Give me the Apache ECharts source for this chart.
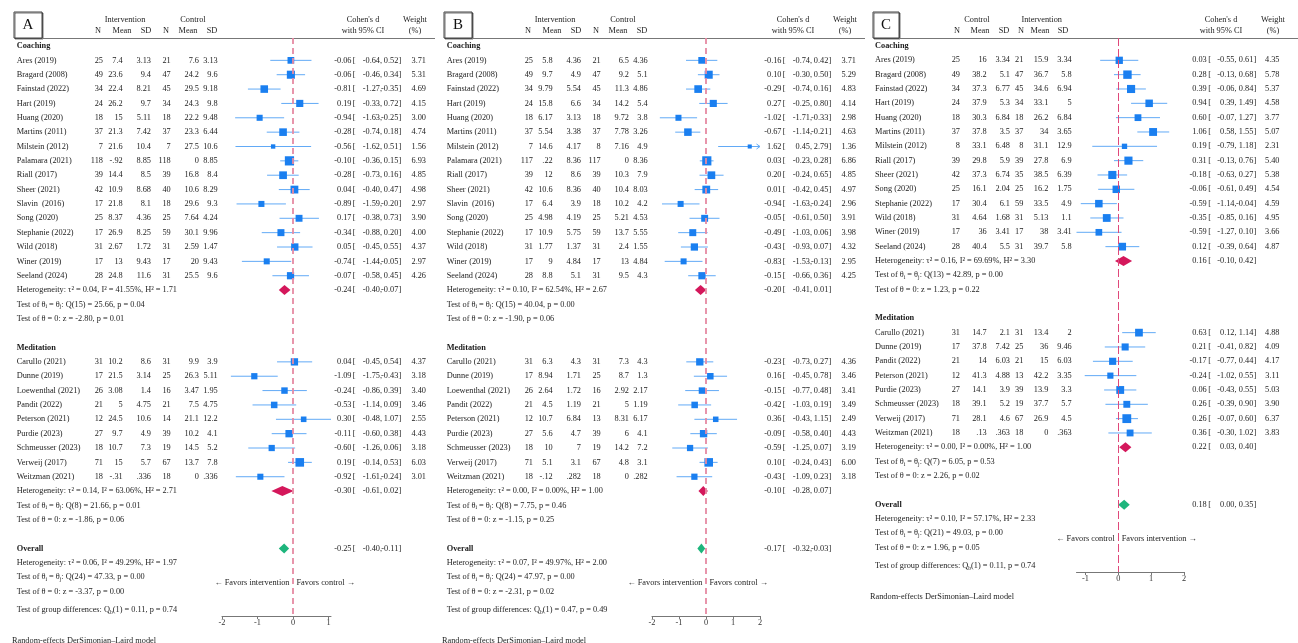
<!DOCTYPE html>
<html><head><meta charset="utf-8">
<script src="https://cdn.jsdelivr.net/npm/echarts@6/dist/echarts.min.js"></script>
<style>html,body{margin:0;padding:0;background:#fff}#c{width:1298px;height:643px}</style>
</head><body><div id="c"></div>
<script>
// ================= DATA =================
// ---- Panel A ----
const A_studies = ["Ares (2019)","Bragard (2008)","Fainstad (2022)","Hart (2019)","Huang (2020)","Martins (2011)","Milstein (2012)","Palamara (2021)","Riall (2017)","Sheer (2021)","Slavin  (2016)","Song (2020)","Stephanie (2022)","Wild (2018)","Winer (2019)","Seeland (2024)",
  "Carullo (2021)","Dunne (2019)","Loewenthal (2021)","Pandit (2022)","Peterson (2021)","Purdie (2023)","Schmeusser (2023)","Verweij (2017)","Weitzman (2021)"];
const A_nCoaching = 16;
const A_n1 = ["25","49","34","24","18","37","7","118","39","42","17","25","17","31","17","28", "31","17","26","21","12","27","18","71","18"];
const A_mean1 = ["7.4","23.6","22.4","26.2","15","21.3","21.6","-.92","14.4","10.9","21.8","8.37","26.9","2.67","13","24.8", "10.2","21.5","3.08","5","24.5","9.7","10.7","15","-.31"];
const A_sd1 = ["3.13","9.4","8.21","9.7","5.11","7.42","10.4","8.85","8.5","8.68","8.1","4.36","8.25","1.72","9.43","11.6", "8.6","3.14","1.4","4.75","10.6","4.9","7.3","5.7",".336"];
const A_n2 = ["21","47","45","34","18","37","7","118","39","40","18","25","59","31","17","31", "31","25","16","21","14","39","19","67","18"];
const A_mean2 = ["7.6","24.2","29.5","24.3","22.2","23.3","27.5","0","16.8","10.6","29.6","7.64","30.1","2.59","20","25.5", "9.9","26.3","3.47","7.5","21.1","10.2","14.5","13.7","0"];
const A_sd2 = ["3.13","9.6","9.18","9.8","9.48","6.44","10.6","8.85","8.4","8.29","9.3","4.24","9.96","1.47","9.43","9.6", "3.9","5.11","1.95","4.75","12.2","4.1","5.2","7.8",".336"];
const A_d  = [-0.06,-0.06,-0.81,0.19,-0.94,-0.28,-0.56,-0.10,-0.28,0.04,-0.89,0.17,-0.34,0.05,-0.74,-0.07, 0.04,-1.09,-0.24,-0.53,0.30,-0.11,-0.60,0.19,-0.92];
const A_lo = [-0.64,-0.46,-1.27,-0.33,-1.63,-0.74,-1.62,-0.36,-0.73,-0.40,-1.59,-0.38,-0.88,-0.45,-1.44,-0.58, -0.45,-1.75,-0.86,-1.14,-0.48,-0.60,-1.26,-0.14,-1.61];
const A_hi = [0.52,0.34,-0.35,0.72,-0.25,0.18,0.51,0.15,0.16,0.47,-0.20,0.73,0.20,0.55,-0.05,0.45, 0.54,-0.43,0.39,0.09,1.07,0.38,0.06,0.53,-0.24];
const A_weight = [3.71,5.31,4.69,4.15,3.00,4.74,1.56,6.93,4.85,4.98,2.97,3.90,4.00,4.37,2.97,4.26, 4.37,3.18,3.40,3.46,2.55,4.43,3.18,6.03,3.01];
const A_sub = [[-0.24,-0.40,-0.07],[-0.30,-0.61,0.02]];
const A_overall = [-0.25,-0.40,-0.11];
const A_het = ["τ² = 0.04, I² = 41.55%, H² = 1.71","τ² = 0.14, I² = 63.06%, H² = 2.71","τ² = 0.06, I² = 49.29%, H² = 1.97"];
const A_Q = ["Q(15) = 25.66, p = 0.04","Q(8) = 21.66, p = 0.01","Q(24) = 47.33, p = 0.00"];
const A_z = ["z = -2.80, p = 0.01","z = -1.86, p = 0.06","z = -3.37, p = 0.00"];
const A_Qb = "(1) = 0.11, p = 0.74";

// ---- Panel B ----
const B_studies = A_studies;
const B_nCoaching = 16;
const B_n1 = ["25","49","34","24","18","37","7","117","39","42","17","25","17","31","17","28", "31","17","26","21","12","27","18","71","18"];
const B_mean1 = ["5.8","9.7","9.79","15.8","6.17","5.54","14.6",".22","12","10.6","6.4","4.98","10.9","1.77","9","8.8", "6.3","8.94","2.64","4.5","10.7","5.6","10","5.1","-.12"];
const B_sd1 = ["4.36","4.9","5.54","6.6","3.13","3.38","4.17","8.36","8.6","8.36","3.9","4.19","5.75","1.37","4.84","5.1", "4.3","1.71","1.72","1.19","6.84","4.7","7","3.1",".282"];
const B_n2 = ["21","47","45","34","18","37","8","117","39","40","18","25","59","31","17","31", "31","25","16","21","13","39","19","67","18"];
const B_mean2 = ["6.5","9.2","11.3","14.2","9.72","7.78","7.16","0","10.3","10.4","10.2","5.21","13.7","2.4","13","9.5", "7.3","8.7","2.92","5","8.31","6","14.2","4.8","0"];
const B_sd2 = ["4.36","5.1","4.86","5.4","3.8","3.26","4.9","8.36","7.9","8.03","4.2","4.53","5.55","1.55","4.84","4.3", "4.3","1.3","2.17","1.19","6.17","4.1","7.2","3.1",".282"];
const B_d  = [-0.16,0.10,-0.29,0.27,-1.02,-0.67,1.62,0.03,0.20,0.01,-0.94,-0.05,-0.49,-0.43,-0.83,-0.15, -0.23,0.16,-0.15,-0.42,0.36,-0.09,-0.59,0.10,-0.43];
const B_lo = [-0.74,-0.30,-0.74,-0.25,-1.71,-1.14,0.45,-0.23,-0.24,-0.42,-1.63,-0.61,-1.03,-0.93,-1.53,-0.66, -0.73,-0.45,-0.77,-1.03,-0.43,-0.58,-1.25,-0.24,-1.09];
const B_hi = [0.42,0.50,0.16,0.80,-0.33,-0.21,2.79,0.28,0.65,0.45,-0.24,0.50,0.06,0.07,-0.13,0.36, 0.27,0.78,0.48,0.19,1.15,0.40,0.07,0.43,0.23];
const B_weight = [3.71,5.29,4.83,4.14,2.98,4.63,1.36,6.86,4.85,4.97,2.96,3.91,3.98,4.32,2.95,4.25, 4.36,3.46,3.41,3.49,2.49,4.43,3.19,6.00,3.18];
const B_sub = [[-0.20,-0.41,0.01],[-0.10,-0.28,0.07]];
const B_overall = [-0.17,-0.32,-0.03];
const B_het = ["τ² = 0.10, I² = 62.54%, H² = 2.67","τ² = 0.00, I² = 0.00%, H² = 1.00","τ² = 0.07, I² = 49.97%, H² = 2.00"];
const B_Q = ["Q(15) = 40.04, p = 0.00","Q(8) = 7.75, p = 0.46","Q(24) = 47.97, p = 0.00"];
const B_z = ["z = -1.90, p = 0.06","z = -1.15, p = 0.25","z = -2.31, p = 0.02"];
const B_Qb = "(1) = 0.47, p = 0.49";

// ---- Panel C ----
const C_studies = ["Ares (2019)","Bragard (2008)","Fainstad (2022)","Hart (2019)","Huang (2020)","Martins (2011)","Milstein (2012)","Riall (2017)","Sheer (2021)","Song (2020)","Stephanie (2022)","Wild (2018)","Winer (2019)","Seeland (2024)",
  "Carullo (2021)","Dunne (2019)","Pandit (2022)","Peterson (2021)","Purdie (2023)","Schmeusser (2023)","Verweij (2017)","Weitzman (2021)"];
const C_nCoaching = 14;
const C_n1 = ["25","49","34","24","18","37","8","39","42","25","17","31","17","28", "31","17","21","12","27","18","71","18"];
const C_mean1 = ["16","38.2","37.3","37.9","30.3","37.8","33.1","29.8","37.3","16.1","30.4","4.64","36","40.4", "14.7","37.8","14","41.3","14.1","39.1","28.1",".13"];
const C_sd1 = ["3.34","5.1","6.77","5.3","6.84","3.5","6.48","5.9","6.74","2.04","6.1","1.68","3.41","5.5", "2.1","7.42","6.03","4.88","3.9","5.2","4.6",".363"];
const C_n2 = ["21","47","45","34","18","37","8","39","35","25","59","31","17","31", "31","25","21","13","39","19","67","18"];
const C_mean2 = ["15.9","36.7","34.6","33.1","26.2","34","31.1","27.8","38.5","16.2","33.5","5.13","38","39.7", "13.4","36","15","42.2","13.9","37.7","26.9","0"];
const C_sd2 = ["3.34","5.8","6.94","5","6.84","3.65","12.9","6.9","6.39","1.75","4.9","1.1","3.41","5.8", "2","9.46","6.03","3.35","3.3","5.7","4.5",".363"];
const C_d  = [0.03,0.28,0.39,0.94,0.60,1.06,0.19,0.31,-0.18,-0.06,-0.59,-0.35,-0.59,0.12, 0.63,0.21,-0.17,-0.24,0.06,0.26,0.26,0.36];
const C_lo = [-0.55,-0.13,-0.06,0.39,-0.07,0.58,-0.79,-0.13,-0.63,-0.61,-1.14,-0.85,-1.27,-0.39, 0.12,-0.41,-0.77,-1.02,-0.43,-0.39,-0.07,-0.30];
const C_hi = [0.61,0.68,0.84,1.49,1.27,1.55,1.18,0.76,0.27,0.49,-0.04,0.16,0.10,0.64, 1.14,0.82,0.44,0.55,0.55,0.90,0.60,1.02];
const C_weight = [4.35,5.78,5.37,4.58,3.77,5.07,2.31,5.40,5.38,4.54,4.59,4.95,3.66,4.87, 4.88,4.09,4.17,3.11,5.03,3.90,6.37,3.83];
const C_sub = [[0.16,-0.10,0.42],[0.22,0.03,0.40]];
const C_overall = [0.18,0.00,0.35];
const C_het = ["τ² = 0.16, I² = 69.69%, H² = 3.30","τ² = 0.00, I² = 0.00%, H² = 1.00","τ² = 0.10, I² = 57.17%, H² = 2.33"];
const C_Q = ["Q(13) = 42.89, p = 0.00","Q(7) = 6.05, p = 0.53","Q(21) = 49.03, p = 0.00"];
const C_z = ["z = 1.23, p = 0.22","z = 2.26, p = 0.02","z = 1.96, p = 0.05"];
const C_Qb = "(1) = 0.11, p = 0.74";

// shared labels
const groupLabels = ["Coaching","Meditation"];
const subHeaders = ["N","Mean","SD","N","Mean","SD"];
const AB_armHeaders = ["Intervention","Control"];
const C_armHeaders = ["Control","Intervention"];
const AB_favors = ["← Favors intervention","Favors control →"];
const C_favors = ["← Favors control","Favors intervention →"];
const A_ticks = [-2,-1,0,1];
const B_ticks = [-2,-1,0,1,2];
const C_ticks = [-1,0,1,2];
const noteText = "Random-effects DerSimonian–Laird model";

// ================= STYLE / LAYOUT =================
const FONT = "'Liberation Serif','Times New Roman',serif";
const FS = 8.3;
const INK = '#1c1c1c';
const SQ = '#1a7ff0', CI = '#62aaf6', SUBC = '#d4175b', OVC = '#1db57c';

const layAB = {name:16.7, c:[103,122.7,151,170.7,199,217.7], est:351.5, br:352.7, lo:380, hi:398.3, w:426,
  arm:[125,193], sub:[98,122,146,166,188,212], cd:363, wt:415, box:[14,12,28,26], line:[42,435], note:12};
const layC = {name:15, c:[100,126.7,150,163.3,188.3,211.7], est:346.7, br:348.3, lo:374.5, hi:393.3, w:419.5,
  arm:[117,181.7], sub:[97,120,144,161,180,203], cd:361, wt:413, box:[13,12,26,26], line:[39,438], note:10};

const panels = [
  {letter:'A', left:0, names:A_studies, nCoach:A_nCoaching, n1:A_n1, m1:A_mean1, s1:A_sd1, n2:A_n2, m2:A_mean2, s2:A_sd2,
   d:A_d, lo:A_lo, hi:A_hi, w:A_weight, sub:A_sub, ov:A_overall, het:A_het, q:A_Q, z:A_z, qb:A_Qb,
   arms:AB_armHeaders, favors:AB_favors, ticks:A_ticks, xmin:-2, xmax:1.07, lay:layAB,
   grid:{left:222, right:1298-331, top:38, bottom:27}, dash:{color:'#e68aa3', width:1.8, type:[6,4]}},
  {letter:'B', left:430, names:B_studies, nCoach:B_nCoaching, n1:B_n1, m1:B_mean1, s1:B_sd1, n2:B_n2, m2:B_mean2, s2:B_sd2,
   d:B_d, lo:B_lo, hi:B_hi, w:B_weight, sub:B_sub, ov:B_overall, het:B_het, q:B_Q, z:B_z, qb:B_Qb,
   arms:AB_armHeaders, favors:AB_favors, ticks:B_ticks, xmin:-2, xmax:2, lay:layAB,
   grid:{left:652, right:1298-760, top:38, bottom:27}, dash:{color:'#e68aa3', width:1.8, type:[6,4]}},
  {letter:'C', left:860, names:C_studies, nCoach:C_nCoaching, n1:C_n1, m1:C_mean1, s1:C_sd1, n2:C_n2, m2:C_mean2, s2:C_sd2,
   d:C_d, lo:C_lo, hi:C_hi, w:C_weight, sub:C_sub, ov:C_overall, het:C_het, q:C_Q, z:C_z, qb:C_Qb,
   arms:C_armHeaders, favors:C_favors, ticks:C_ticks, xmin:-1.27, xmax:2, lay:layC,
   grid:{left:1076.5, right:1298-1184, top:38, bottom:71}, dash:{color:'#e0487a', width:1, type:[8,3]}}
];

function makeRows(P) {
  const rows = [];
  let r = 0;
  const ranges = [[0, P.nCoach], [P.nCoach, P.names.length]];
  ranges.forEach((g, gi) => {
    rows.push({kind:'head', row:r++, text:groupLabels[gi]});
    for (let i = g[0]; i < g[1]; i++) rows.push({kind:'study', row:r++, i});
    rows.push({kind:'het', row:r++, gi});
    rows.push({kind:'q', row:r++, gi});
    rows.push({kind:'z', row:r++, gi});
    r++;
  });
  rows.push({kind:'overall', row:r++});
  rows.push({kind:'het', row:r++, gi:2});
  rows.push({kind:'q', row:r++, gi:2});
  rows.push({kind:'z', row:r++, gi:2});
  const last = r - 1;
  rows.push({kind:'favors', row:last - 0.6});
  rows.push({kind:'qb', row:last + 1.25});
  rows.push({kind:'note', row:last + 1.7 + 25/14.35});
  P.rows = rows;
  P.axisRow = last + 1.7;
}
panels.forEach(makeRows);

const RICH = {s:{fontSize:5.6, fontFamily:FONT, fill:INK, verticalAlign:'bottom'}};
const fmt = v => v.toFixed(2);

function renderFor(P) {
  return function (params, api) {
    const R = P.rows[params.dataIndex];
    const pt = api.coord([0, R.row]);
    const y = pt[1], x0 = pt[0];
    const L = P.left, c = P.lay;
    const ch = [];
    const T = (s, x, align, bold, rich) => ch.push({type:'text', x:x, y:y, silent:true,
      style:{text:s, align:align, verticalAlign:'middle', fontSize:FS, fontFamily:FONT,
        fontWeight:bold ? 'bold' : 'normal', fill:INK, rich:rich, lineHeight: rich ? 11 : undefined}});
    const ciText = (d, lo, hi) => {
      T(fmt(d), L + c.est, 'right'); T('[', L + c.br, 'left');
      T(fmt(lo), L + c.lo, 'right'); T(',', L + c.lo, 'left');
      T(fmt(hi), L + c.hi, 'right'); T(']', L + c.hi + 0.3, 'left');
    };
    const diamond = (d, lo, hi, color) => {
      const a = api.coord([lo, R.row])[0], m = api.coord([d, R.row])[0], b = api.coord([hi, R.row])[0];
      ch.push({type:'polygon', shape:{points:[[a, y], [m, y - 5], [b, y], [m, y + 5]]}, style:{fill:color}});
    };
    switch (R.kind) {
      case 'head': T(R.text, L + c.name, 'left', true); break;
      case 'study': {
        const i = R.i;
        T(P.names[i], L + c.name, 'left');
        [P.n1[i], P.m1[i], P.s1[i], P.n2[i], P.m2[i], P.s2[i]].forEach((v, k) => T(v, L + c.c[k], 'right'));
        ciText(P.d[i], P.lo[i], P.hi[i]);
        T(P.w[i].toFixed(2), L + c.w, 'right');
        const xa = api.coord([Math.max(P.lo[i], P.xmin), R.row])[0];
        const xb = api.coord([Math.min(P.hi[i], P.xmax), R.row])[0];
        ch.push({type:'line', shape:{x1:xa, y1:y, x2:xb, y2:y}, style:{stroke:CI, lineWidth:1}});
        if (P.hi[i] > P.xmax) ch.push({type:'polyline', shape:{points:[[xb - 3.5, y - 2.5], [xb, y], [xb - 3.5, y + 2.5]]}, style:{stroke:CI, lineWidth:1, fill:null}});
        const s = 3.5 * Math.sqrt(P.w[i]);
        const cx = api.coord([P.d[i], R.row])[0];
        ch.push({type:'rect', shape:{x:cx - s / 2, y:y - s / 2, width:s, height:s}, style:{fill:SQ}});
        break;
      }
      case 'het':
        T('Heterogeneity: ' + P.het[R.gi], L + c.name, 'left');
        if (R.gi < 2) { const g = P.sub[R.gi]; ciText(g[0], g[1], g[2]); diamond(g[0], g[1], g[2], SUBC); }
        break;
      case 'q': T('Test of θ{s|i} = θ{s|j}: ' + P.q[R.gi], L + c.name, 'left', false, RICH); break;
      case 'z': T('Test of θ = 0: ' + P.z[R.gi], L + c.name, 'left'); break;
      case 'overall':
        T('Overall', L + c.name, 'left', true);
        ciText(P.ov[0], P.ov[1], P.ov[2]); diamond(P.ov[0], P.ov[1], P.ov[2], OVC);
        break;
      case 'favors': T(P.favors[0], x0 - 3.5, 'right'); T(P.favors[1], x0 + 3.5, 'left'); break;
      case 'qb': T('Test of group differences: Q{s|b}' + P.qb, L + c.name, 'left', false, RICH); break;
      case 'note': T(noteText, L + c.note, 'left'); break;
    }
    return {type:'group', children:ch};
  };
}

// header graphics
const graphic = [];
panels.forEach(P => {
  const L = P.left, c = P.lay;
  const ht = (s, x, y) => graphic.push({type:'text', x:L + x, y:y, silent:true,
    style:{text:s, align:'center', verticalAlign:'middle', fontSize:FS, fontFamily:FONT, fill:INK}});
  graphic.push({type:'rect', shape:{x:L + c.box[0], y:c.box[1], width:c.box[2], height:c.box[3]},
    style:{fill:'#fff', stroke:'#444', lineWidth:1, shadowColor:'rgba(0,0,0,0.55)', shadowOffsetX:1, shadowOffsetY:1, shadowBlur:0}});
  graphic.push({type:'text', x:L + c.box[0] + c.box[2] / 2, y:c.box[1] + c.box[3] / 2 + 0.5,
    style:{text:P.letter, align:'center', verticalAlign:'middle', fontSize:15, fontFamily:FONT, fill:'#111'}});
  graphic.push({type:'line', shape:{x1:L + c.line[0], y1:38.5, x2:L + c.line[1], y2:38.5}, style:{stroke:'#777', lineWidth:1}});
  ht(P.arms[0], c.arm[0], 20); ht(P.arms[1], c.arm[1], 20);
  subHeaders.forEach((s, k) => ht(s, c.sub[k], 31));
  ht("Cohen's d", c.cd, 20); ht('with 95% CI', c.cd, 31);
  ht('Weight', c.wt, 20); ht('(%)', c.wt, 31);
});

const option = {
  animation:false,
  backgroundColor:'#fff',
  graphic:graphic,
  grid:panels.map(P => P.grid),
  xAxis:panels.map((P, k) => ({
    type:'value', gridIndex:k, min:P.xmin, max:P.xmax, position:'bottom',
    splitLine:{show:false},
    axisLine:{show:true, onZero:false, lineStyle:{color:'#777', width:1}},
    axisTick:{show:true, length:3, customValues:P.ticks, lineStyle:{color:'#777'}},
    axisLabel:{show:true, customValues:P.ticks, margin:2.5, fontSize:FS, fontFamily:FONT, color:'#333'}
  })),
  yAxis:panels.map((P, k) => ({type:'value', gridIndex:k, inverse:true, min:-0.557, max:P.axisRow, show:false})),
  series:panels.map((P, k) => ({
    type:'custom', xAxisIndex:k, yAxisIndex:k, clip:false, silent:true,
    data:P.rows.map(r => [0, r.row]),
    encode:{x:0, y:1},
    renderItem:renderFor(P),
    markLine:{silent:true, symbol:'none', animation:false, label:{show:false},
      lineStyle:{color:P.dash.color, width:P.dash.width, type:P.dash.type},
      data:[{xAxis:0}]}
  }))
};

const chart = echarts.init(document.getElementById('c'), null, {renderer:'canvas'});
chart.setOption(option);
</script>
</body></html>
